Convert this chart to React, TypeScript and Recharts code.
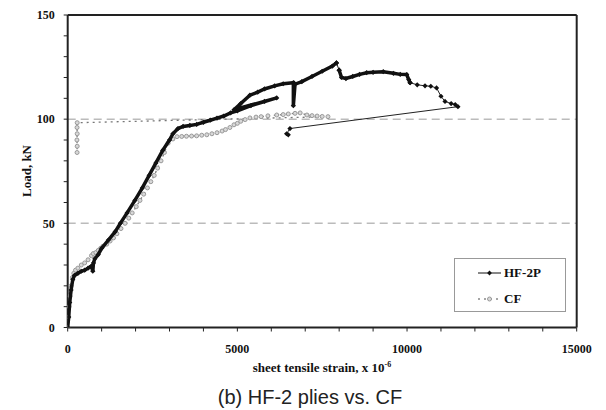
import { ScatterChart, Scatter, XAxis, YAxis, ReferenceLine } from "recharts";

// strain in x 10^-6, load in kN
const hfMainStrain = [
  0, 30, 60, 100, 150, 200, 300, 400, 500, 600, 700, 740, 760, 800, 900, 1000,
  1200, 1400, 1550, 1750, 1980, 2200, 2400, 2600, 2800, 3000, 3100, 3250, 3400,
  3600, 3800, 4000, 4200, 4400, 4600, 4800, 5000, 5400, 5800, 6160, 4900, 5100,
  5370, 5600, 5800, 6100, 6350, 6650, 6650, 6700, 6900, 7200, 7500, 7800, 7920,
];
const hfMainLoad = [
  0, 5, 12, 18, 23, 25, 26, 27, 27.5, 28.5, 29.5, 27, 31, 33, 35, 38, 42, 46, 50,
  55, 61, 67, 73, 79, 85, 90, 93, 95.5, 96.5, 97, 97.5, 98.5, 99.5, 100.5, 101.5,
  103, 104, 106.5, 108.5, 110.2, 104.5, 107.5, 111.5, 113, 114.5, 116, 117, 117.5,
  106.5, 116.8, 118, 120.5, 123, 125.5, 127,
];
const hfPlateauStrain = [
  8000, 8070, 8200, 8400, 8600, 8810, 9000, 9300, 9600, 9800, 9990, 10050, 10090,
];
const hfPlateauLoad = [
  123.5, 120, 119.5, 120.5, 121.5, 122.3, 122.5, 122.8, 122, 121.5, 121.4, 119, 117.5,
];
const hfDropStrain = [7920, 8000];
const hfDropLoad = [127, 123.5];
const hfTailStrain = [
  10090, 10300, 10530, 10700, 10870, 11000, 11120, 11300, 11420, 11500, 6550, 6450,
  6500,
];
const hfTailLoad = [117.5, 116.5, 116, 115.8, 115, 111, 108.5, 107.5, 107, 106, 95.5, 93, 92.5];

const cfStrain = [
  0, 20, 40, 70, 100, 140, 180, 230, 300, 400, 500, 600, 700, 755, 830, 900, 970,
  1040, 1150, 1250, 1350, 1450, 1570, 1690, 1800, 1900, 2020, 2130, 2240, 2350,
  2450, 2550, 2650, 2750, 2850, 2960, 3100, 3220, 3360, 3500, 3650, 3800, 3950,
  4100, 4250, 4400, 4550, 4650, 4780, 4900, 5000, 5100, 5230, 5370, 5550, 5700,
  5900, 6160, 6350, 6500, 6700, 6850, 7050, 7200, 7350, 7500, 7670, 280, 275, 280,
  272, 280, 276,
];
const cfLoad = [
  0, 5, 10, 15, 20, 24, 26, 27.5, 28.5, 30, 31, 32.5, 34.5, 35.5, 36, 37, 38, 39,
  40, 41.5, 43, 45, 47.5, 50, 52.5, 55, 58, 61, 64, 67, 70, 73, 76.5, 80, 84, 88.5,
  90.5, 91.6, 91.7, 91.8, 91.9, 92, 92.3, 92.5, 93, 93.5, 94.3, 95, 96, 97.3, 98,
  99, 99.8, 100.6, 101, 101.2, 101.6, 102, 102.2, 102.5, 102.8, 103, 102, 101.7,
  101.5, 101.3, 101.2, 98.3, 96, 93, 90, 87, 84,
];

const strainTicks = [
  0, 1000, 2000, 3000, 4000, 5000, 6000, 7000, 8000, 9000, 10000, 11000, 12000,
  13000, 14000, 15000,
];
const loadTicks = [0, 10, 20, 30, 40, 50, 60, 70, 80, 90, 100, 110, 120, 130, 140, 150];

const zip = (xs: number[], ys: number[]) => xs.map((x, i) => ({ x, y: ys[i] }));

const hfMain = zip(hfMainStrain, hfMainLoad);
const hfDrop = zip(hfDropStrain, hfDropLoad);
const hfPlateau = zip(hfPlateauStrain, hfPlateauLoad);
const hfTail = zip(hfTailStrain, hfTailLoad);
const cf = zip(cfStrain, cfLoad);

const serif = '"Liberation Serif", "Times New Roman", serif';

const Diamond = (props: any) => {
  const { cx, cy } = props;
  if (cx == null || cy == null) return <g />;
  const s = 2.6;
  return (
    <path
      d={`M${cx},${cy - s}L${cx + s},${cy}L${cx},${cy + s}L${cx - s},${cy}Z`}
      fill="#111"
    />
  );
};

const Ring = (props: any) => {
  const { cx, cy } = props;
  if (cx == null || cy == null) return <g />;
  return <circle cx={cx} cy={cy} r={2} fill="#d8d8d8" stroke="#999" strokeWidth={1} />;
};

const tickStyle = { fill: "#111", fontSize: 12, fontWeight: "bold", fontFamily: serif };

export default function App() {
  return (
    <div style={{ position: "relative", width: 590, height: 400 }}>
      <ScatterChart
        width={590}
        height={400}
        margin={{ top: 7, right: 21.3, left: 0, bottom: 0 }}
      >
        <XAxis
          type="number"
          dataKey="x"
          domain={[0, 15000]}
          ticks={strainTicks}
          interval={0}
          allowDataOverflow
          tickFormatter={(v: number) => (v % 5000 === 0 ? String(v) : "")}
          tick={tickStyle}
          tickSize={4}
          tickMargin={13}
          tickLine={{ stroke: "#222" }}
          axisLine={{ stroke: "#222", strokeWidth: 2 }}
          height={80.5}
        />
        <YAxis
          type="number"
          dataKey="y"
          domain={[0, 150]}
          ticks={loadTicks}
          interval={0}
          allowDataOverflow
          tickFormatter={(v: number) => (v % 50 === 0 ? String(v) : "")}
          tick={tickStyle}
          tickSize={4}
          tickMargin={9}
          tickLine={{ stroke: "#222" }}
          axisLine={{ stroke: "#222", strokeWidth: 2 }}
          width={59.7}
        />
        <ReferenceLine y={50} stroke="#bbb" strokeWidth={1.5} strokeDasharray="8 5" />
        <ReferenceLine y={100} stroke="#bbb" strokeWidth={1.5} strokeDasharray="8 5" />
        <ReferenceLine y={150} stroke="#222" strokeWidth={2} />
        <ReferenceLine x={15000} stroke="#222" strokeWidth={2} />
        <Scatter
          data={cf}
          line={{ stroke: "#777", strokeWidth: 1.3, strokeDasharray: "2 4" }}
          lineType="joint"
          shape={Ring}
          isAnimationActive={false}
        />
        <Scatter
          data={hfTail}
          line={{ stroke: "#222", strokeWidth: 1 }}
          lineType="joint"
          shape={Diamond}
          isAnimationActive={false}
        />
        <Scatter
          data={hfDrop}
          line={{ stroke: "#222", strokeWidth: 1 }}
          lineType="joint"
          shape={Diamond}
          isAnimationActive={false}
        />
        <Scatter
          data={hfPlateau}
          line={{ stroke: "#111", strokeWidth: 3.5 }}
          lineType="joint"
          shape={Diamond}
          isAnimationActive={false}
        />
        <Scatter
          data={hfMain}
          line={{ stroke: "#111", strokeWidth: 3.5 }}
          lineType="joint"
          shape={Diamond}
          isAnimationActive={false}
        />
      </ScatterChart>

      <div
        style={{
          position: "absolute",
          left: 19,
          top: 163,
          transform: "translate(-50%, -50%) rotate(-90deg)",
          whiteSpace: "nowrap",
          fontFamily: serif,
          fontWeight: "bold",
          fontSize: 13,
          color: "#111",
        }}
      >
        Load, kN
      </div>

      <div
        style={{
          position: "absolute",
          left: 314,
          top: 360,
          transform: "translate(-50%, -50%)",
          whiteSpace: "nowrap",
          fontFamily: serif,
          fontWeight: "bold",
          fontSize: 13,
          color: "#111",
        }}
      >
        sheet tensile strain, x 10<sup style={{ fontSize: 8 }}>-6</sup>
      </div>

      <div
        style={{
          position: "absolute",
          left: 302,
          top: 389,
          transform: "translate(-50%, -50%)",
          whiteSpace: "nowrap",
          fontFamily: '"Liberation Sans", Arial, sans-serif',
          fontSize: 20,
          color: "#222",
        }}
      >
        (b) HF-2 plies vs. CF
      </div>

      <div
        style={{
          position: "absolute",
          left: 446,
          top: 250,
          width: 112,
          height: 54,
          boxSizing: "border-box",
          border: "1px solid #999",
          background: "#fff",
          fontFamily: serif,
          fontWeight: "bold",
          fontSize: 13,
          color: "#111",
        }}
      >
        <svg width={30} height={54} style={{ position: "absolute", left: 20, top: 0 }}>
          <line x1={3} y1={14} x2={26} y2={14} stroke="#111" strokeWidth={1} />
          <path d="M14.5,11.6L16.9,14L14.5,16.4L12.1,14Z" fill="#111" />
          <line x1={3} y1={40} x2={26} y2={40} stroke="#888" strokeWidth={1.3} strokeDasharray="2 4" />
          <circle cx={14.5} cy={40} r={2} fill="#d8d8d8" stroke="#999" />
        </svg>
        <div style={{ position: "absolute", left: 49, top: 6 }}>HF-2P</div>
        <div style={{ position: "absolute", left: 49, top: 32 }}>CF</div>
      </div>
    </div>
  );
}
